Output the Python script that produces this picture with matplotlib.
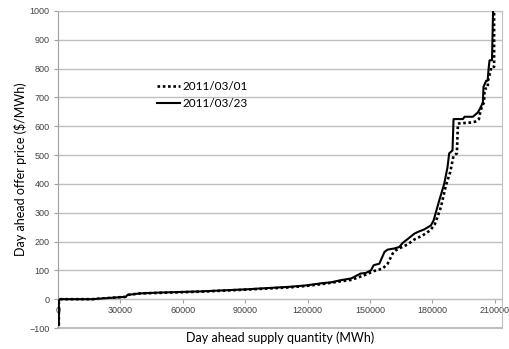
import matplotlib.pyplot as plt

# supply curve 2011/03/01 (dotted)
q_0301 = [400, 400, 1000, 16500, 30000, 32500, 33500, 39500, 49000, 68500, 90000,
          111500, 119500, 127500, 136000, 141000, 147300, 152100, 156100, 158500,
          160900, 162500, 164900, 168100, 171300, 175300, 179000, 181200, 184100,
          186500, 188600, 190200, 191800, 192300, 192900, 198700, 201200, 202400,
          203200, 204000, 204900, 205100, 206600, 206800, 208000, 208300, 209700,
          209700]
p_0301 = [-90, -5, 0, 0, 7, 8, 15, 20, 22, 26, 33,
          41, 46, 53, 62, 67, 83, 98, 106, 123,
          158, 170, 179, 190, 207, 221, 239, 260, 319,
          394, 441, 498, 506, 608, 610, 613, 617, 625,
          654, 671, 683, 729, 733, 758, 792, 806, 806,
          1100]

# supply curve 2011/03/23 (solid)
q_0323 = [400, 400, 1000, 16500, 30000, 32500, 33500, 39500, 49000, 68500, 90000,
          111500, 119500, 127500, 131000, 136000, 141000, 145500, 148000, 150500,
          151800, 154500, 157000, 158500, 161700, 164100, 165700, 168900, 171300,
          172900, 176100, 179300, 180600, 183300, 185700, 187300, 188100, 189700,
          190200, 194700, 195500, 199500, 201900, 203200, 204300, 204600, 205900,
          206600, 207000, 207500, 208700, 209200, 209200]
p_0323 = [-90, -5, 0, 0, 7, 8, 15, 20, 23, 27, 34,
          43, 48, 56, 58, 66, 72, 89, 91, 100,
          118, 123, 164, 172, 176, 181, 195, 213, 227,
          233, 242, 256, 273, 342, 400, 458, 506, 516,
          625, 625, 633, 633, 648, 665, 683, 737, 758,
          758, 795, 829, 829, 1000, 1100]

x_ticks = list(range(0, 210001, 30000))
y_ticks = list(range(-100, 1001, 100))

plt.rcParams['font.family'] = ['Liberation Sans', 'DejaVu Sans']

fig = plt.figure(figsize=(5.09, 3.49), dpi=100)
ax = fig.add_axes([58 / 509, 1 - 328 / 349, 444 / 509, 317 / 349])

ax.plot(q_0301, p_0301, color='black', lw=1.9, ls=(0, (1, 1)), label='2011/03/01')
ax.plot(q_0323, p_0323, color='black', lw=1.5, label='2011/03/23', zorder=3)

ax.set_xlim(0, 213500)
ax.set_ylim(-100, 1000)
ax.set_xticks(x_ticks)
ax.set_yticks(y_ticks)
ax.grid(axis='y', color='#bfbfbf', lw=1)
ax.set_axisbelow(True)

for s in ['top', 'right']:
    ax.spines[s].set_color('#bfbfbf')
ax.spines['left'].set_color('#a0a0a0')
ax.spines['bottom'].set_position(('data', 0))
ax.spines['bottom'].set_color('#bfbfbf')
ax.axhline(-100, color='#bfbfbf', lw=1.5, clip_on=False)

ax.tick_params(axis='both', direction='out', length=3, width=0.8, color='#a0a0a0',
               labelsize=6.5, labelcolor='#404040')
ax.tick_params(axis='x', pad=2)
ax.tick_params(axis='y', pad=3)

ax.set_xlabel('Day ahead supply quantity (MWh)', fontsize=9, family=['Lato', 'DejaVu Sans'])
ax.xaxis.set_label_coords(0.5, -0.012)
ax.set_ylabel('Day ahead offer price ($/MWh)', fontsize=9, family=['Lato', 'DejaVu Sans'])
ax.yaxis.set_label_coords(-0.07, 0.5)

leg = ax.legend(loc='upper left', bbox_to_anchor=(0.222, 0.78), frameon=False,
                borderpad=0, borderaxespad=0, handlelength=2.0, handletextpad=0.2,
                labelspacing=0.55, prop={'family': ['Lato', 'DejaVu Sans'], 'size': 8.5})

fig.savefig('out.png', dpi=100)
